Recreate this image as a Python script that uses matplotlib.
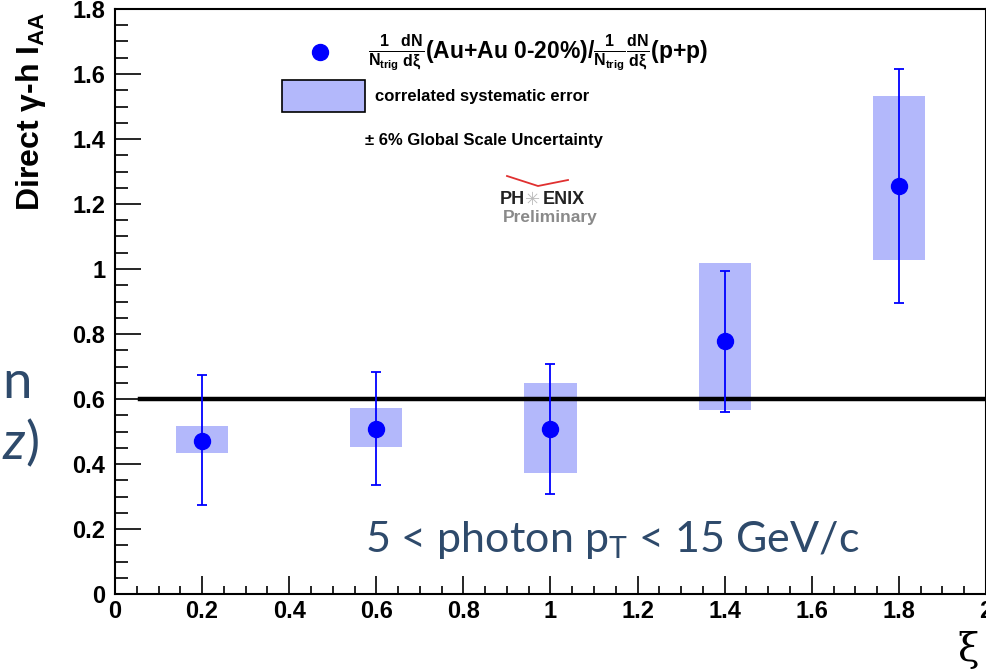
import numpy as np
import matplotlib
matplotlib.use("Agg")
import matplotlib.pyplot as plt
from matplotlib.patches import Rectangle
from matplotlib.lines import Line2D

plt.rcParams['font.family'] = ['Liberation Sans', 'DejaVu Sans']
plt.rcParams['mathtext.fontset'] = 'custom'
plt.rcParams['mathtext.rm'] = 'Liberation Sans:bold'
plt.rcParams['mathtext.it'] = 'Liberation Sans:bold'
plt.rcParams['mathtext.bf'] = 'Liberation Sans:bold'
plt.rcParams['mathtext.sf'] = 'Lato'

# data
xi = [0.2, 0.6, 1.0, 1.4, 1.8]
iaa = [0.471, 0.508, 0.508, 0.778, 1.255]
stat_lo = [0.274, 0.335, 0.308, 0.560, 0.895]
stat_hi = [0.674, 0.683, 0.708, 0.994, 1.615]
sys_lo = [0.434, 0.452, 0.372, 0.566, 1.028]
sys_hi = [0.517, 0.572, 0.649, 1.018, 1.532]
sys_halfwidth = 0.06
ref_level = 0.6
ref_xrange = [0.058, 2.0]

blue = '#0000ff'
sysblue = '#b3b8fb'
slide = '#2e4a6b'

fig = plt.figure(figsize=(9.87, 6.70), dpi=100)
ax = fig.add_axes([115/987, 76/670, 871/987, 585/670])

# systematic boxes
for x, lo, hi in zip(xi, sys_lo, sys_hi):
    ax.add_patch(Rectangle((x - sys_halfwidth, lo), 2*sys_halfwidth, hi - lo,
                           facecolor=sysblue, edgecolor='none', zorder=1))

# reference line
ax.plot(ref_xrange, [ref_level, ref_level], color='black', lw=3.2, zorder=2)

# points with stat errors
xi_a = np.array(xi)
iaa_a = np.array(iaa)
yerr = [iaa_a - np.array(stat_lo), np.array(stat_hi) - iaa_a]
ax.errorbar(xi_a, iaa_a, yerr=yerr, fmt='o', color=blue, ms=11.5,
            elinewidth=1.3, capsize=3.5, capthick=1.3, zorder=3)

ax.set_xlim(0, 2)
ax.set_ylim(0, 1.8)
ax.set_xticks(np.arange(0, 2.01, 0.2))
ax.set_xticks(np.arange(0, 2.01, 0.05), minor=True)
ax.set_yticks(np.arange(0, 1.81, 0.2))
ax.set_yticks(np.arange(0, 1.81, 0.05), minor=True)
ax.set_xticklabels(['0', '0.2', '0.4', '0.6', '0.8', '1', '1.2', '1.4', '1.6', '1.8', '2'])
ax.set_yticklabels(['0', '0.2', '0.4', '0.6', '0.8', '1', '1.2', '1.4', '1.6', '1.8'])
ax.tick_params(axis='x', which='major', direction='in', length=13, width=1.2, pad=4)
ax.tick_params(axis='x', which='minor', direction='in', length=6, width=1.2)
ax.tick_params(axis='y', which='major', direction='in', length=19, width=1.2, pad=7)
ax.tick_params(axis='y', which='minor', direction='in', length=9.5, width=1.2)
for lab in ax.get_xticklabels() + ax.get_yticklabels():
    lab.set_fontsize(17)
    lab.set_fontweight('bold')
for s in ax.spines.values():
    s.set_linewidth(1.5)

ax.set_ylabel(r'Direct $\gamma$-h I$_{AA}$', fontsize=23, fontweight='bold', loc='top')
ax.yaxis.set_label_coords(-0.077, 0.995)
fig.text(968/987, 1 - 650/670, '\u03be', fontsize=28, family='DejaVu Serif',
         ha='center', va='center')

# legend drawn by hand
fig.add_artist(Line2D([320/987], [1 - 52/670], marker='o', color=blue, ms=11.5,
                      transform=fig.transFigure))
fig.text(368/987, 1 - 52/670,
         r'$\frac{1}{N_{trig}}\frac{dN}{d\xi}$(Au+Au 0-20%)/$\frac{1}{N_{trig}}\frac{dN}{d\xi}$(p+p)',
         fontsize=16.5, fontweight='bold', ha='left', va='center')
fig.add_artist(Rectangle((282/987, 1 - 112/670), 83/987, 32/670, facecolor=sysblue,
                         edgecolor='black', lw=1.2, transform=fig.transFigure))
fig.text(375/987, 1 - 97/670, 'correlated systematic error', fontsize=12,
         fontweight='bold', ha='left', va='center')
fig.text(365/987, 1 - 140/670, '\u00b1 6% Global Scale Uncertainty', fontsize=12,
         fontweight='bold', ha='left', va='center')

# PHENIX preliminary tag
fig.text(500/987, 1 - 200/670, 'PH', fontsize=13, fontweight='bold', color='#222222',
         ha='left', va='center')
fig.text(533/987, 1 - 200/670, '\u2733', fontsize=13, color='#bbbbbb',
         family='DejaVu Sans', ha='center', va='center')
fig.text(543/987, 1 - 200/670, 'ENIX', fontsize=13, fontweight='bold', color='#222222',
         ha='left', va='center')
fig.text(503/987, 1 - 218/670, 'Preliminary', fontsize=12.5, fontweight='bold',
         color='#8a8a8a', ha='left', va='center')
fig.add_artist(Line2D([507/987, 538/987, 568/987], [1 - 176/670, 1 - 186/670, 1 - 180/670],
                      color='#e03030', lw=1.3, transform=fig.transFigure))

# slide text
fig.text(365/987, 1 - 540/670, r'5 < photon p$_\mathsf{T}$ < 15 GeV/c', fontsize=31,
         family='Lato', color=slide, ha='left', va='center')
fig.text(2/987, 1 - 384/670, 'n', fontsize=38, family='Lato', color=slide,
         ha='left', va='center')
fig.text(2/987, 1 - 444/670, 'z', fontsize=38, family='Lato', style='italic',
         color=slide, ha='left', va='center')
fig.text(25/987, 1 - 444/670, ')', fontsize=38, family='Lato', color=slide,
         ha='left', va='center')

fig.savefig('out.png', dpi=100)
